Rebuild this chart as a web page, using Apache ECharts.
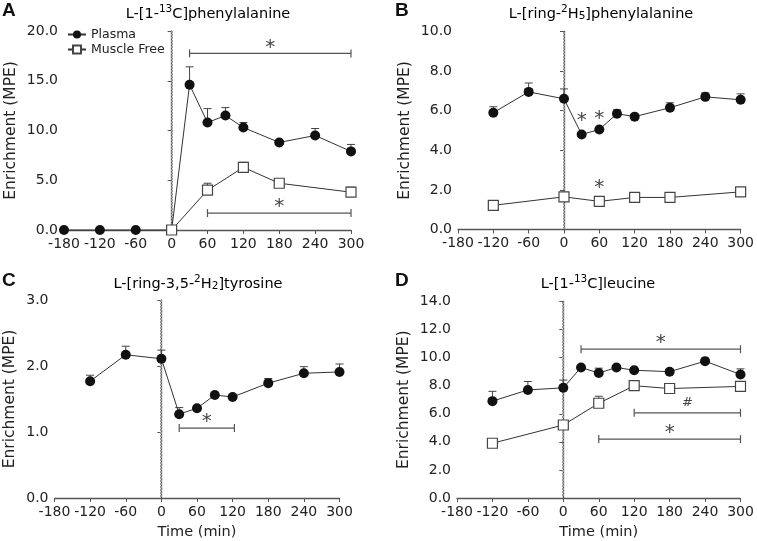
<!DOCTYPE html>
<html><head><meta charset="utf-8">
<script src="https://cdn.jsdelivr.net/npm/echarts@6/dist/echarts.min.js"></script>
<style>html,body{margin:0;padding:0;background:#fff}#c{width:757px;height:541px}</style>
</head><body><div id="c"></div>
<script>
// ---- Data ----
const xTicks = [-180, -120, -60, 0, 60, 120, 180, 240, 300];

// Panel A: L-[1-13C]phenylalanine
const timeA_plasma = [-180, -120, -60, 0, 30, 60, 90, 120, 180, 240, 300];
const A_plasma     = [0, 0, 0, 0, 14.6, 10.8, 11.5, 10.3, 8.8, 9.5, 7.9];
const A_plasmaErr  = [0, 0, 0, 0, 1.8, 1.4, 0.8, 0.5, 0.2, 0.7, 0.7];
const timeA_muscle = [0, 60, 120, 180, 300];
const A_muscle     = [0, 4.0, 6.3, 4.7, 3.8];
const A_muscleErr  = [0, 0.7, 0.5, 0.1, 0.5];
const A_sig = [[30, 300, 17.75, '*'], [60, 300, 1.7, '*']];

// Panel B: L-[ring-2H5]phenylalanine
const timeB_plasma = [-120, -60, 0, 30, 60, 90, 120, 180, 240, 300];
const B_plasma     = [5.9, 6.95, 6.6, 4.8, 5.05, 5.85, 5.7, 6.15, 6.7, 6.55];
const B_plasmaErr  = [0.3, 0.45, 0.5, 0.05, 0.05, 0.2, 0.05, 0.25, 0.2, 0.3];
const timeB_muscle = [-120, 0, 60, 120, 180, 300];
const B_muscle     = [1.22, 1.65, 1.42, 1.62, 1.62, 1.9];
const B_muscleErr  = [0.05, 0.05, 0.05, 0.05, 0.05, 0.05];
const B_stars = [[30, 5.5, '*'], [60, 5.6, '*'], [60, 2.1, '*']];

// Panel C: L-[ring-3,5-2H2]tyrosine
const timeC_plasma = [-120, -60, 0, 30, 60, 90, 120, 180, 240, 300];
const C_plasma     = [1.77, 2.17, 2.11, 1.27, 1.36, 1.56, 1.53, 1.74, 1.89, 1.91];
const C_plasmaErr  = [0.09, 0.13, 0.13, 0.1, 0.03, 0.03, 0.03, 0.07, 0.1, 0.12];
const C_sig = [[30, 123, 1.06, '*']];

// Panel D: L-[1-13C]leucine
const timeD_plasma = [-120, -60, 0, 30, 60, 90, 120, 180, 240, 300];
const D_plasma     = [6.9, 7.7, 7.85, 9.3, 8.9, 9.3, 9.1, 9.0, 9.75, 8.8];
const D_plasmaErr  = [0.7, 0.6, 0.55, 0.1, 0.35, 0.1, 0.1, 0.1, 0.1, 0.4];
const timeD_muscle = [-120, 0, 60, 120, 180, 300];
const D_muscle     = [3.9, 5.2, 6.75, 8.0, 7.8, 7.95];
const D_muscleErr  = [0.1, 0.1, 0.5, 0.15, 0.15, 0.1];
const D_sig = [[30, 300, 10.6, '*'], [120, 300, 6.07, '#'], [60, 300, 4.2, '*']];

const yMax = [20, 10, 3, 14];
const yInt = [5, 2, 1, 2];

// ---- Chart ----
const FONT = 'DejaVu Sans';
const TXT = '#222';
const AX = '#555';
const pair = (xs, ys) => xs.map((x, i) => [x, ys[i]]);
const trip = (xs, ys, es) => xs.map((x, i) => [x, ys[i], es[i]]);

const grids = [
  {left: 64, top: 31, width: 287, height: 199},
  {left: 458, top: 31.5, width: 285.5, height: 198},
  {left: 54.5, top: 300, width: 285, height: 199.5},
  {left: 457, top: 301.5, width: 283.5, height: 198}
];

const xAxes = grids.map((g, i) => ({
  type: 'value', gridIndex: i, min: -180, max: 300, interval: 60,
  axisLine: {show: true, onZero: false, lineStyle: {color: AX, width: 1.3}},
  axisTick: {show: true, length: 4, lineStyle: {color: AX}},
  splitLine: {show: false},
  axisLabel: {fontFamily: FONT, fontSize: 14, color: TXT, margin: 7},
  name: i >= 2 ? 'Time (min)' : '', nameLocation: 'middle', nameGap: 27,
  nameTextStyle: {fontFamily: FONT, fontSize: 14.5, color: TXT}
}));
const yAxes = grids.map((g, i) => ({
  type: 'value', gridIndex: i, min: 0, max: yMax[i], interval: yInt[i],
  axisLine: {show: true, lineStyle: {color: AX, width: 1.3}},
  axisTick: {show: true, length: 4, lineStyle: {color: AX}},
  splitLine: {show: false},
  axisLabel: {fontFamily: FONT, fontSize: 14, color: TXT, margin: 6, formatter: v => v.toFixed(1)},
  name: 'Enrichment (MPE)', nameLocation: 'middle', nameGap: i === 2 ? 37 : 45,
  nameTextStyle: {fontFamily: FONT, fontSize: 15.5, color: TXT}
}));

function errRender(params, api) {
  const x = api.value(0), y = api.value(1), e = api.value(2);
  const p0 = api.coord([x, y]); const p1 = api.coord([x, y + e]);
  return {type: 'group', children: [
    {type: 'line', shape: {x1: p0[0], y1: p0[1], x2: p1[0], y2: p1[1]}, style: {stroke: '#444', lineWidth: 1}},
    {type: 'line', shape: {x1: p1[0] - 4, y1: p1[1], x2: p1[0] + 4, y2: p1[1]}, style: {stroke: '#444', lineWidth: 1}}
  ]};
}
function sigRender(params, api) {
  const x1 = api.value(0), x2 = api.value(1), y = api.value(2);
  const p1 = api.coord([x1, y]); const p2 = api.coord([x2, y]);
  const s = {stroke: '#555', lineWidth: 1.2};
  const txt = sigLabels[params.seriesIndex][params.dataIndex];
  return {type: 'group', children: [
    {type: 'line', shape: {x1: p1[0], y1: p1[1], x2: p2[0], y2: p2[1]}, style: s},
    {type: 'line', shape: {x1: p1[0], y1: p1[1] - 4, x2: p1[0], y2: p1[1] + 4}, style: s},
    {type: 'line', shape: {x1: p2[0], y1: p2[1] - 4, x2: p2[0], y2: p2[1] + 4}, style: s},
    {type: 'text', x: (p1[0] + p2[0]) / 2, y: p1[1] - (txt === '#' ? 10 : 6),
     style: {text: txt, fontFamily: FONT, fontSize: txt === '#' ? 13 : 20, fill: '#444', align: 'center', verticalAlign: 'middle'}}
  ]};
}
function starRender(params, api) {
  const p = api.coord([api.value(0), api.value(1)]);
  return {type: 'text', x: p[0], y: p[1],
    style: {text: '*', fontFamily: FONT, fontSize: 20, fill: '#444', align: 'center', verticalAlign: 'middle'}};
}
function zeroRender(params, api) {
  // vertical dotted reference line at t = 0, drawn as a chain of small dots
  const p0 = api.coord([0, 0]); const p1 = api.coord([0, api.value(1)]);
  const x = Math.round(p0[0]) - 1;
  const children = [];
  for (let y = Math.round(p1[1]); y < p0[1] - 1; y += 3) {
    children.push({type: 'rect', shape: {x: x, y: y, width: 2, height: 2}, style: {fill: '#999'}});
  }
  return {type: 'group', children};
}

const sigLabels = {};
const series = [];
function lineSeries(name, gi, xs, ys, filled) {
  return {
    type: 'line', name, xAxisIndex: gi, yAxisIndex: gi, data: pair(xs, ys),
    symbol: filled ? 'circle' : 'rect', symbolSize: 10,
    itemStyle: filled ? {color: '#111', borderColor: '#111', borderWidth: 0} : {color: '#fff', borderColor: '#444', borderWidth: 1.2},
    lineStyle: {color: '#333', width: 1}, z: 3, clip: false, animation: false
  };
}
function zeroSeries(gi) {
  return {type: 'custom', xAxisIndex: gi, yAxisIndex: gi, data: [[0, yMax[gi]]],
    renderItem: zeroRender, z: 1, clip: false, animation: false, silent: true};
}
function errSeries(gi, xs, ys, es) {
  return {type: 'custom', xAxisIndex: gi, yAxisIndex: gi, data: trip(xs, ys, es),
    renderItem: errRender, z: 2, clip: false, animation: false, silent: true};
}
function sigSeries(gi, sig) {
  sigLabels[series.length] = sig.map(s => s[3]);
  return {type: 'custom', xAxisIndex: gi, yAxisIndex: gi, data: sig.map(s => [s[0], s[1], s[2]]),
    encode: {x: [0, 1], y: 2}, renderItem: sigRender, z: 4, clip: false, animation: false, silent: true};
}

// A
series.push(zeroSeries(0));
series.push(errSeries(0, timeA_plasma, A_plasma, A_plasmaErr));
series.push(errSeries(0, timeA_muscle, A_muscle, A_muscleErr));
series.push(lineSeries('Plasma', 0, timeA_plasma, A_plasma, true));
series.push(lineSeries('Muscle Free', 0, timeA_muscle, A_muscle, false));
series.push(sigSeries(0, A_sig));
// B
series.push(zeroSeries(1));
series.push(errSeries(1, timeB_plasma, B_plasma, B_plasmaErr));
series.push(errSeries(1, timeB_muscle, B_muscle, B_muscleErr));
series.push(lineSeries('Plasma', 1, timeB_plasma, B_plasma, true));
series.push(lineSeries('Muscle Free', 1, timeB_muscle, B_muscle, false));
series.push({type: 'custom', xAxisIndex: 1, yAxisIndex: 1, data: B_stars.map(s => [s[0], s[1]]),
  renderItem: starRender, z: 4, clip: false, animation: false, silent: true});
// C
series.push(zeroSeries(2));
series.push(errSeries(2, timeC_plasma, C_plasma, C_plasmaErr));
series.push(lineSeries('Plasma', 2, timeC_plasma, C_plasma, true));
series.push(sigSeries(2, C_sig));
// D
series.push(zeroSeries(3));
series.push(errSeries(3, timeD_plasma, D_plasma, D_plasmaErr));
series.push(errSeries(3, timeD_muscle, D_muscle, D_muscleErr));
series.push(lineSeries('Plasma', 3, timeD_plasma, D_plasma, true));
series.push(lineSeries('Muscle Free', 3, timeD_muscle, D_muscle, false));
series.push(sigSeries(3, D_sig));

const rich = {
  m: {fontFamily: FONT, fontSize: 14.5, color: TXT, lineHeight: 20, verticalAlign: 'bottom'},
  sup: {fontFamily: FONT, fontSize: 10.5, color: TXT, lineHeight: 20, verticalAlign: 'top', padding: [2, 0, 0, 0]},
  sub: {fontFamily: FONT, fontSize: 10.5, color: TXT, lineHeight: 20, verticalAlign: 'bottom'}
};
function title(x, y, text) {
  return {type: 'text', x, y, style: {text, rich, align: 'center', verticalAlign: 'middle'}};
}
function letter(x, y, t) {
  return {type: 'text', x, y, style: {text: t, fontFamily: 'Liberation Sans', fontWeight: 'bold', fontSize: 19, fill: '#111', align: 'left', verticalAlign: 'middle'}};
}

const chart = echarts.init(document.getElementById('c'), null, {renderer: 'canvas'});
chart.setOption({
  animation: false,
  backgroundColor: '#fff',
  grid: grids,
  xAxis: xAxes,
  yAxis: yAxes,
  legend: {
    show: true, orient: 'vertical', left: 62, top: 23, itemGap: 2, itemWidth: 18, itemHeight: 10,
    data: ['Plasma', 'Muscle Free'],
    textStyle: {fontFamily: FONT, fontSize: 12.5, color: TXT, padding: [0, 0, 0, 0]}, selectedMode: false
  },
  graphic: [
    title(208, 12, '{m|L-[1-}{sup|13}{m|C]phenylalanine}'),
    title(601, 12, '{m|L-[ring-}{sup|2}{m|H}{sub|5}{m|]phenylalanine}'),
    title(198, 282, '{m|L-[ring-3,5-}{sup|2}{m|H}{sub|2}{m|]tyrosine}'),
    title(598, 282, '{m|L-[1-}{sup|13}{m|C]leucine}'),
    letter(2, 11, 'A'), letter(395, 11, 'B'), letter(2, 281, 'C'), letter(395, 281, 'D')
  ],
  series
});
</script>
</body></html>
